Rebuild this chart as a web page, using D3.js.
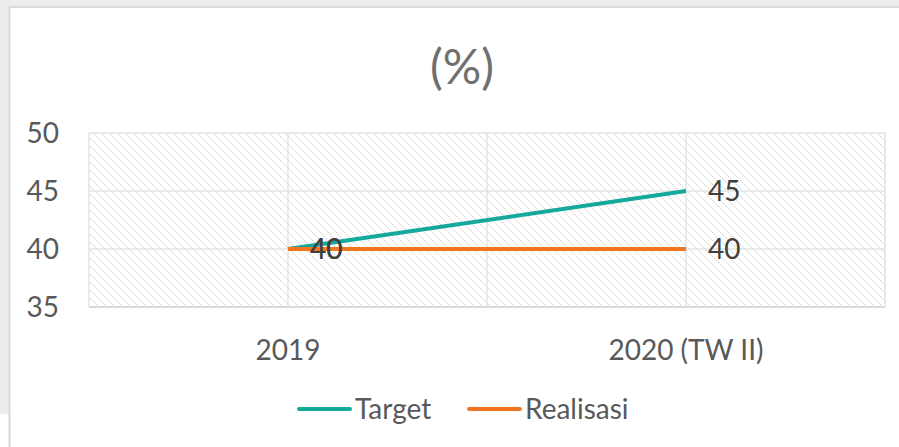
<!DOCTYPE html>
<meta charset='utf-8'>
<head>
  <style>
    body { margin: 0; background: #fff; }
    text { font-family: Lato, 'Open Sans', sans-serif; }
  </style>
</head>
<body>
<script src='https://d3js.org/d3.v7.min.js'></script>
<script>

var categories = ['2019', '2020 (TW II)'];
var target = [40, 45];
var realisasi = [40, 40];
var yTicks = [35, 40, 45, 50];
var seriesNames = ['Target', 'Realisasi'];
var colors = ['#14a99c', '#f2761f'];

var W = 899, H = 447;
var plot = {left: 89, right: 885, top: 133, bottom: 307};

var svg = d3.select('body').append('svg')
    .attr('width', W)
    .attr('height', H);

// hatch pattern for the plot area
var pat = svg.append('defs').append('pattern')
    .attr('id', 'hatch')
    .attr('patternUnits', 'userSpaceOnUse')
    .attr('width', 8).attr('height', 8);
pat.append('rect').attr('width', 8).attr('height', 8).attr('fill', '#fff');
d3.range(8).forEach(i => {
  pat.append('rect').attr('x', i).attr('y', i)
      .attr('width', 1).attr('height', 1)
      .attr('fill', i % 2 ? '#ececec' : '#cdcdcd');
});

// window frame
svg.append('rect').attr('width', W).attr('height', 7).attr('fill', '#eeeded');
svg.append('rect').attr('width', 9).attr('height', 414).attr('fill', '#eeeded');
svg.append('line')
    .attr('x1', 9.5).attr('x2', 9.5).attr('y1', 7).attr('y2', H)
    .attr('stroke', '#d9d9d9').attr('stroke-width', 2);
svg.append('line')
    .attr('x1', 9).attr('x2', W).attr('y1', 7).attr('y2', 7)
    .attr('stroke', '#d9d9d9').attr('stroke-width', 2);

var x = d3.scalePoint().domain(categories).range([plot.left, plot.right]).padding(0.5);
var xb = d3.scaleBand().domain(categories).range([plot.left, plot.right]);
var y = d3.scaleLinear().domain([35, 50]).range([plot.bottom, plot.top]);

svg.append('rect')
    .attr('x', plot.left).attr('y', plot.top)
    .attr('width', plot.right - plot.left)
    .attr('height', plot.bottom - plot.top)
    .attr('fill', 'url(#hatch)');

// gridlines
var grid = svg.append('g').attr('stroke', '#e3e3e3').attr('stroke-width', 1.5);
yTicks.forEach(t => {
  grid.append('line')
      .attr('x1', plot.left).attr('x2', plot.right)
      .attr('y1', y(t)).attr('y2', y(t));
});
var vx = categories.map(c => xb(c)).concat([plot.right]).concat(categories.map(c => x(c)));
vx.forEach(v => {
  grid.append('line')
      .attr('x1', v).attr('x2', v)
      .attr('y1', plot.top).attr('y2', plot.bottom);
});
svg.append('line')
    .attr('x1', plot.left).attr('x2', plot.right)
    .attr('y1', plot.bottom).attr('y2', plot.bottom)
    .attr('stroke', '#d9d9d9').attr('stroke-width', 2);

// title
svg.append('text')
    .attr('x', 462).attr('y', 84)
    .attr('text-anchor', 'middle')
    .attr('font-size', 48)
    .attr('fill', '#6f6f6f')
    .text('(%)');

// y axis labels
svg.append('g').selectAll('text')
    .data(yTicks)
  .enter().append('text')
    .attr('x', 59)
    .attr('y', d => y(d))
    .attr('dy', '0.35em')
    .attr('text-anchor', 'end')
    .attr('font-size', 28)
    .attr('fill', '#595959')
    .text(d => d);

// x axis labels
svg.append('g').selectAll('text')
    .data(categories)
  .enter().append('text')
    .attr('x', d => x(d))
    .attr('y', 360)
    .attr('text-anchor', 'middle')
    .attr('font-size', 28)
    .attr('fill', '#595959')
    .text(d => d);

// lines
var line = d3.line()
    .x((d, i) => x(categories[i]))
    .y(d => y(d));

[target, realisasi].forEach((s, k) => {
  svg.append('path')
      .datum(s)
      .attr('d', line)
      .attr('fill', 'none')
      .attr('stroke', colors[k])
      .attr('stroke-width', 4);
});

// data labels
[target, realisasi].forEach(s => {
  svg.append('g').selectAll('text')
      .data(s)
    .enter().append('text')
      .attr('x', (d, i) => x(categories[i]) + 22)
      .attr('y', d => y(d))
      .attr('dy', '0.35em')
      .attr('font-size', 28)
      .attr('fill', '#404040')
      .text(d => d);
});

// legend
var legend = [{x: 297}, {x: 467}];
seriesNames.forEach((n, k) => {
  var lx = legend[k].x;
  svg.append('line')
      .attr('x1', lx + 2).attr('x2', lx + 53)
      .attr('y1', 409).attr('y2', 409)
      .attr('stroke', colors[k])
      .attr('stroke-width', 4)
      .attr('stroke-linecap', 'round');
  svg.append('text')
      .attr('x', lx + 58)
      .attr('y', 409)
      .attr('dy', '0.35em')
      .attr('font-size', 28)
      .attr('fill', '#595959')
      .text(n);
});

</script>
</body>
